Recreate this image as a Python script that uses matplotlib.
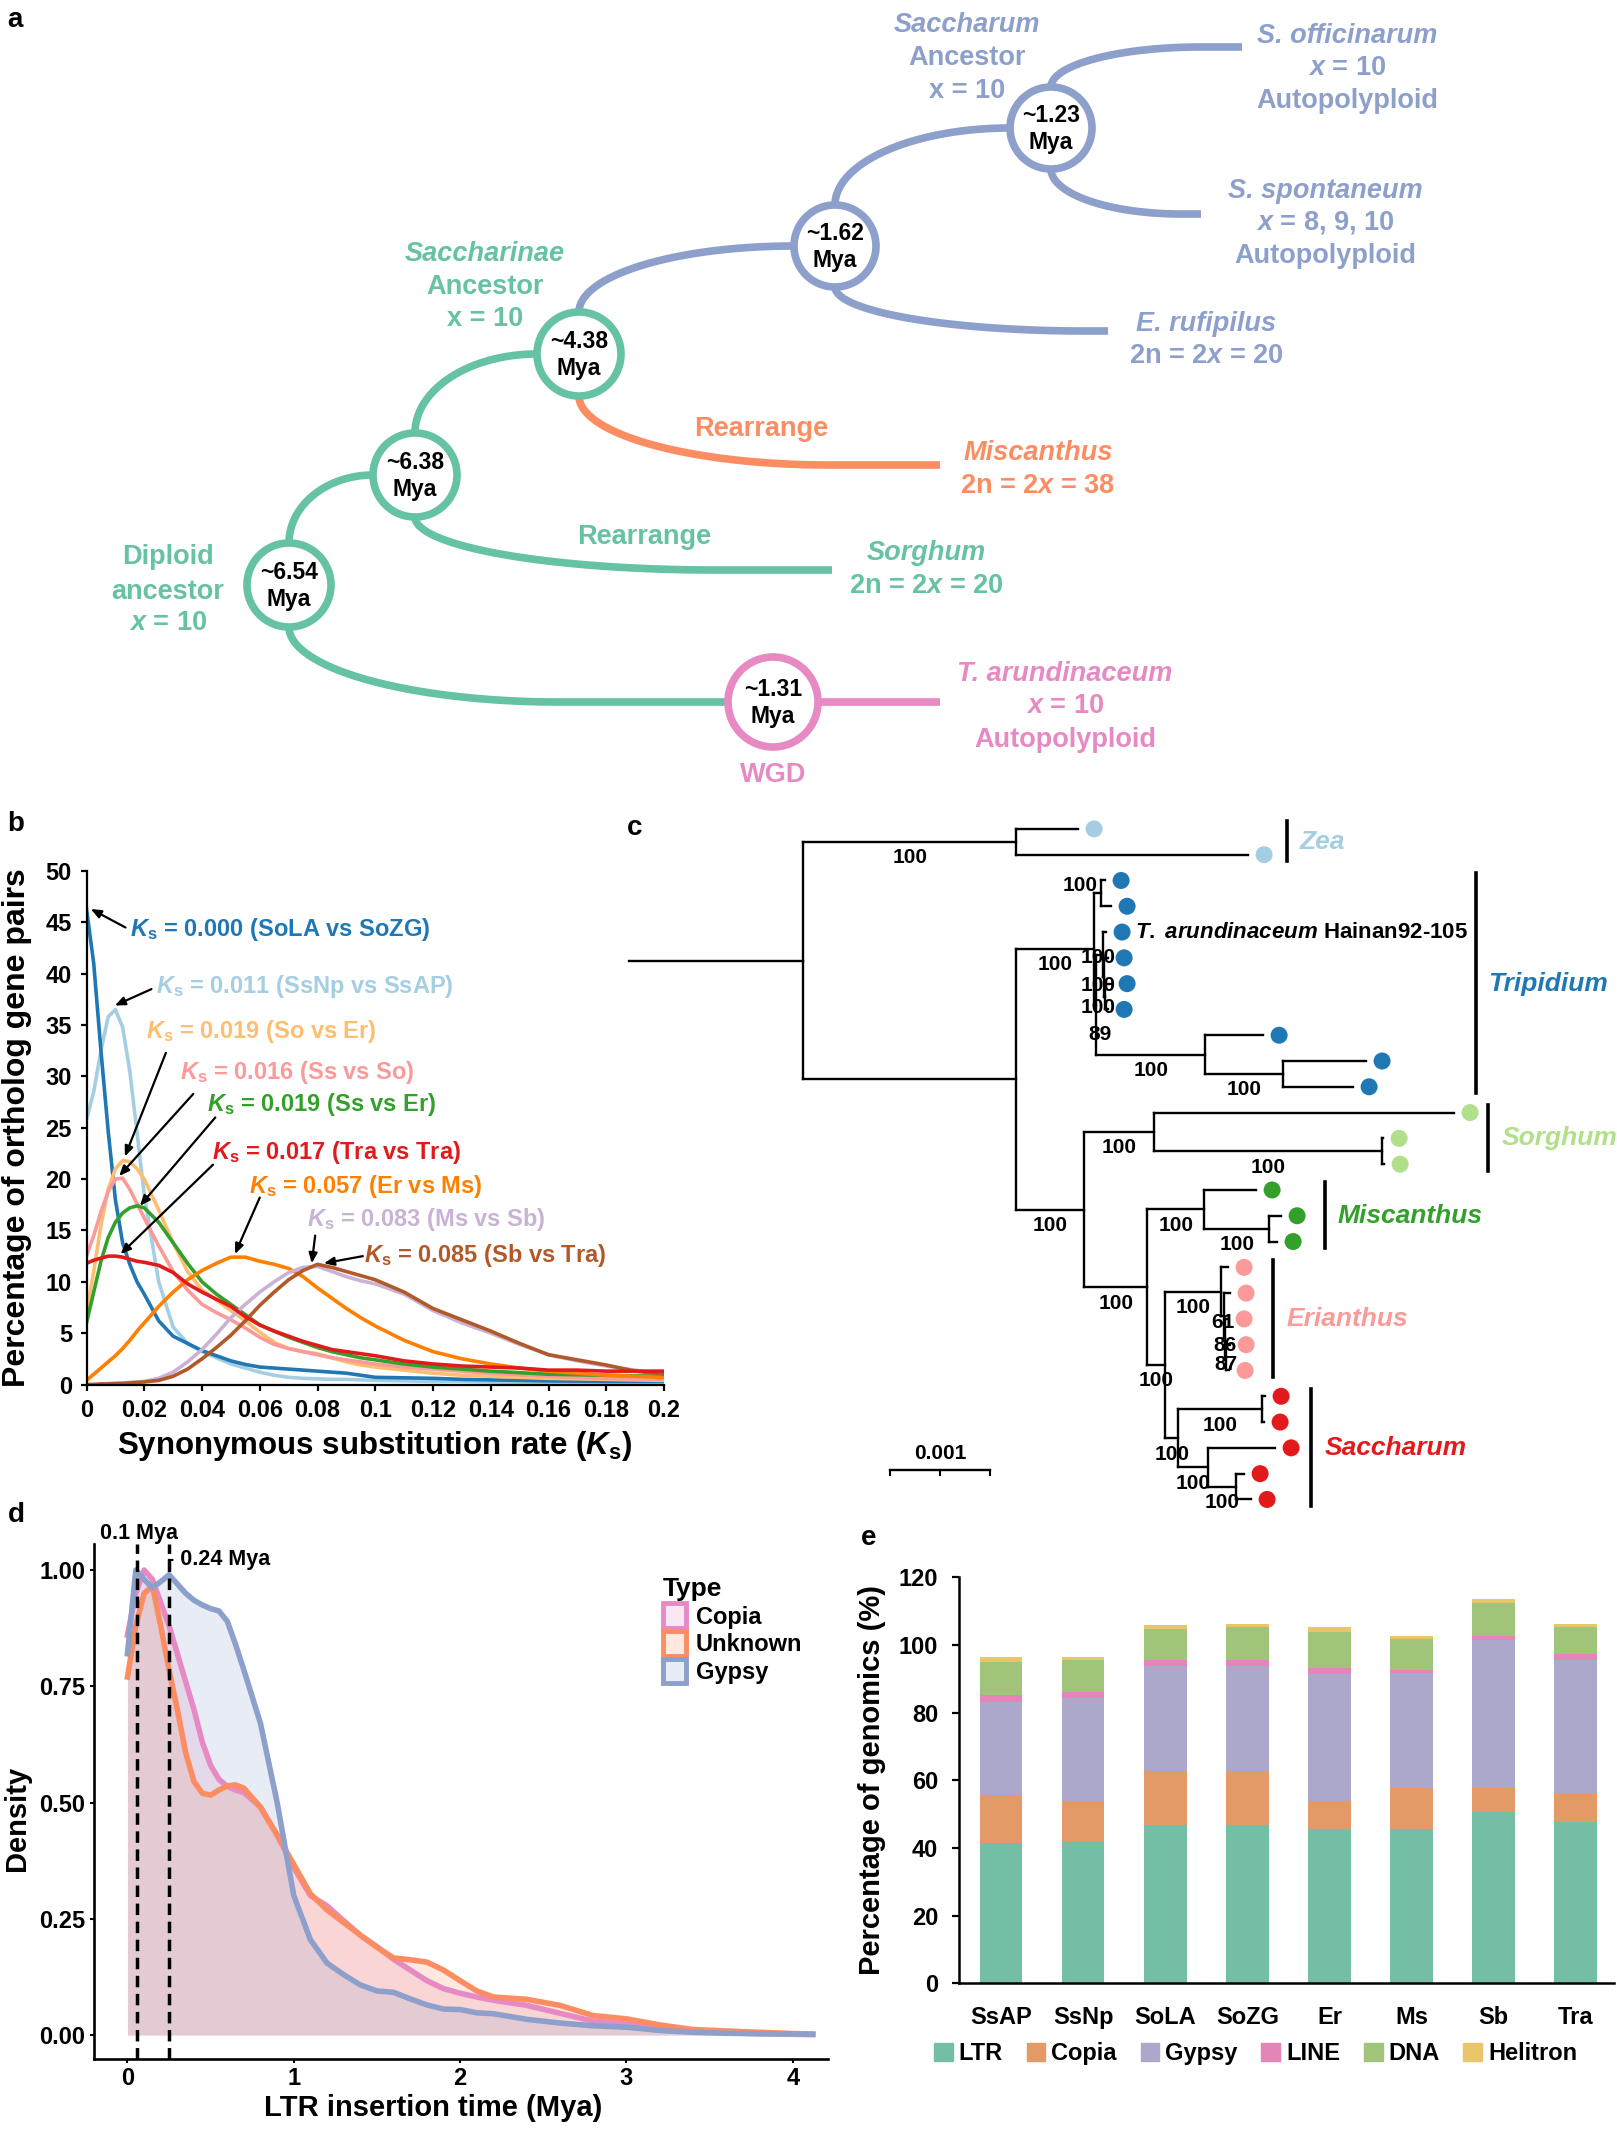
import numpy as np
import matplotlib
matplotlib.use("Agg")
import matplotlib.pyplot as plt
from matplotlib.patches import Circle, Patch

plt.rcParams['font.family'] = ['Liberation Sans', 'DejaVu Sans']
plt.rcParams['font.weight'] = 'bold'
plt.rcParams['mathtext.fontset'] = 'custom'
plt.rcParams['mathtext.rm'] = 'Liberation Sans:bold'
plt.rcParams['mathtext.it'] = 'Liberation Sans:italic:bold'
plt.rcParams['mathtext.bf'] = 'Liberation Sans:bold'

W, H = 1617, 2129
BLUE, GREEN, ORANGE, PINK = '#8DA0CB', '#66C2A5', '#FC8D62', '#E78AC3'

# %% panel a : divergence scheme (layout in figure pixels)
a_node_text = ['~1.23\nMya', '~1.62\nMya', '~4.38\nMya', '~6.38\nMya', '~6.54\nMya', '~1.31\nMya']
a_node_x = [1051, 835, 579, 415, 289, 773]
a_node_y = [128, 246, 354, 475, 585, 702]
a_node_r = [41, 41, 42, 42, 42, 45]
a_node_col = [BLUE, BLUE, GREEN, GREEN, GREEN, PINK]

# side: -1 leaves from top, 1 from bottom, 0 from the right; to = -1 means a leaf
a_br_from = [0, 0, 1, 1, 2, 2, 3, 3, 4, 4, 5]
a_br_side = [-1, 1, -1, 1, -1, 1, -1, 1, -1, 1, 0]
a_br_to = [-1, -1, 0, -1, 1, -1, 2, -1, 3, 5, -1]
a_br_end_x = [1242, 1201, 0, 1108, 0, 940, 0, 832, 0, 0, 940]
a_br_end_y = [47, 214, 0, 331, 0, 465, 0, 570, 0, 0, 702]
a_br_rx = [150, 130, 0, 250, 0, 250, 0, 300, 0, 270, 0]
a_br_col = [BLUE, BLUE, BLUE, BLUE, BLUE, ORANGE, GREEN, GREEN, GREEN, GREEN, PINK]

a_lab_text = ['Saccharum', 'Ancestor', 'x = 10',
              'S. officinarum', '$x$ = 10', 'Autopolyploid',
              'S. spontaneum', '$x$ = 8, 9, 10', 'Autopolyploid',
              'E. rufipilus', '2n = 2$x$ = 20',
              'Saccharinae', 'Ancestor', 'x = 10',
              'Rearrange', 'Miscanthus', '2n = 2$x$ = 38',
              'Rearrange', 'Sorghum', '2n = 2$x$ = 20',
              'Diploid', 'ancestor', '$x$ = 10',
              'T. arundinaceum', '$x$ = 10', 'Autopolyploid', 'WGD']
a_lab_x = [967, 967, 967, 1347, 1347, 1347, 1325, 1325, 1325, 1206, 1206,
           485, 485, 485, 761, 1038, 1038, 644, 926, 926, 168, 168, 168,
           1065, 1065, 1065, 773]
a_lab_y = [25, 58, 91, 36, 68, 101, 191, 223, 256, 324, 356,
           254, 287, 319, 429, 453, 486, 537, 553, 586, 557, 592, 623,
           674, 706, 740, 775]
a_lab_col = [BLUE] * 11 + [GREEN] * 3 + [ORANGE] * 3 + [GREEN] * 6 + [PINK] * 4
a_lab_ital = [1, 0, 0, 1, 0, 0, 1, 0, 0, 1, 0, 1, 0, 0, 0, 1, 0, 0, 1, 0, 0, 0, 0, 1, 0, 0, 0]

# %% panel b : Ks distributions
ks_x = [0, 0.0025, 0.005, 0.0075, 0.01, 0.0125, 0.015, 0.0175, 0.02, 0.025, 0.03, 0.035,
        0.04, 0.045, 0.05, 0.055, 0.06, 0.065, 0.07, 0.075, 0.08, 0.085, 0.09, 0.095,
        0.1, 0.11, 0.12, 0.13, 0.14, 0.15, 0.16, 0.17, 0.18, 0.19, 0.2]
ks_sola_sozg = [46.3, 41, 32.5, 24.7, 18, 13.8, 11.7, 10, 8.8, 6.2, 4.7, 4.0, 3.3, 2.8, 2.3,
                1.95, 1.7, 1.6, 1.5, 1.4, 1.3, 1.2, 1.1, 0.9, 0.7, 0.65, 0.6, 0.5, 0.45, 0.4,
                0.35, 0.33, 0.3, 0.3, 0.3]
ks_ssnp_ssap = [25.8, 28.5, 32.5, 35.8, 36.5, 34.8, 30.5, 24.5, 18.5, 10.0, 5.6, 4.0, 3.2,
                2.6, 2.0, 1.6, 1.2, 0.9, 0.7, 0.6, 0.55, 0.5, 0.5, 0.45, 0.4, 0.35, 0.3, 0.3,
                0.25, 0.2, 0.2, 0.2, 0.2, 0.15, 0.15]
ks_so_er = [7.0, 11, 15.5, 19, 21.0, 21.8, 21.7, 21.0, 20.0, 17.0, 13.8, 11.0, 9.2, 8.2, 7.2,
            6.2, 5.1, 4.1, 3.5, 3.2, 3.0, 2.6, 2.2, 1.9, 1.7, 1.4, 1.1, 0.9, 0.8, 0.7, 0.6,
            0.55, 0.5, 0.45, 0.4]
ks_ss_so = [12.5, 14.5, 16.8, 18.8, 20.0, 20.1, 19.0, 17.6, 16.2, 13.5, 11.0, 9.2, 7.8, 7.0,
            6.3, 5.5, 4.6, 3.9, 3.5, 3.2, 2.9, 2.6, 2.4, 2.2, 2.0, 1.7, 1.5, 1.3, 1.1, 0.95,
            0.8, 0.7, 0.6, 0.55, 0.5]
ks_ss_er = [6.0, 9, 12, 14.3, 15.8, 16.7, 17.2, 17.4, 17.2, 15.8, 13.8, 11.8, 10.0, 8.8, 7.8,
            6.8, 5.8, 5.2, 4.6, 4.1, 3.6, 3.2, 2.9, 2.6, 2.4, 2.0, 1.7, 1.5, 1.3, 1.15, 1.0,
            0.95, 0.9, 0.85, 0.8]
ks_tra_tra = [11.8, 12.1, 12.3, 12.5, 12.5, 12.4, 12.2, 12.0, 11.9, 11.6, 10.9, 9.8, 9.0,
              8.3, 7.6, 6.6, 5.8, 5.2, 4.7, 4.2, 3.8, 3.4, 3.2, 3.0, 2.8, 2.3, 2.0, 1.8, 1.7,
              1.6, 1.4, 1.4, 1.3, 1.3, 1.3]
ks_er_ms = [0.4, 1.0, 1.6, 2.2, 2.8, 3.5, 4.3, 5.2, 6.0, 7.6, 9.0, 10.2, 11.1, 11.8, 12.4,
            12.4, 12.0, 11.7, 11.3, 10.5, 9.4, 8.4, 7.4, 6.5, 5.7, 4.3, 3.2, 2.5, 2.0, 1.6,
            1.3, 1.1, 0.9, 0.8, 0.7]
ks_ms_sb = [0, 0, 0.05, 0.1, 0.1, 0.15, 0.2, 0.25, 0.3, 0.6, 1.2, 2.2, 3.4, 4.9, 6.5, 7.8,
            9.0, 10.0, 10.9, 11.4, 11.5, 11.0, 10.5, 10.1, 9.8, 8.8, 7.2, 6.0, 5.0, 3.9, 2.9,
            2.3, 1.8, 1.4, 1.0]
ks_sb_tra = [0, 0, 0.05, 0.05, 0.1, 0.1, 0.15, 0.2, 0.25, 0.4, 0.8, 1.5, 2.5, 3.6, 4.8, 6.2,
             7.7, 9.0, 10.2, 11.1, 11.7, 11.4, 11.0, 10.6, 10.2, 9.0, 7.4, 6.3, 5.2, 4.0, 2.9,
             2.4, 1.9, 1.3, 1.0]
ks_series = [ks_ssnp_ssap, ks_sola_sozg, ks_so_er, ks_ss_so, ks_ss_er, ks_er_ms, ks_ms_sb,
             ks_sb_tra, ks_tra_tra]
ks_colors = ['#a6cee3', '#1f78b4', '#fdbf6f', '#fb9a99', '#33a02c', '#ff7f00', '#cab2d6',
             '#b15928', '#e31a1c']
ks_xticks = [0, 0.02, 0.04, 0.06, 0.08, 0.1, 0.12, 0.14, 0.16, 0.18, 0.2]
ks_xticklabels = ['0', '0.02', '0.04', '0.06', '0.08', '0.1', '0.12', '0.14', '0.16', '0.18', '0.2']

ks_note_text = ['0.000 (SoLA vs SoZG)', '0.011 (SsNp vs SsAP)', '0.019 (So vs Er)',
                '0.016 (Ss vs So)', '0.019 (Ss vs Er)', '0.017 (Tra vs Tra)',
                '0.057 (Er vs Ms)', '0.083 (Ms vs Sb)', '0.085 (Sb vs Tra)']
ks_note_col = ['#1f78b4', '#a6cee3', '#fdbf6f', '#fb9a99', '#33a02c', '#e31a1c', '#ff7f00',
               '#cab2d6', '#b15928']
ks_note_xy = [(0.0149, 44.3), (0.0240, 38.8), (0.0205, 34.4), (0.0325, 30.4), (0.0416, 27.3),
              (0.0434, 22.6), (0.0562, 19.3), (0.0762, 16.1), (0.0962, 12.6)]
ks_arrow_tail = [(0.0135, 44.5), (0.0225, 38.5), (0.0275, 32.3), (0.0370, 28.3), (0.0446, 26.0),
                 (0.0438, 21.4), (0.0600, 18.2), (0.0792, 14.5), (0.0957, 12.5)]
ks_arrow_tip = [(0.0015, 46.3), (0.0098, 36.9), (0.0133, 22.2), (0.0113, 20.3), (0.0185, 17.4),
                (0.0118, 12.7), (0.0514, 12.7), (0.0780, 11.8), (0.0822, 11.8)]

# %% panel c : ML tree
c_tip_names = ['Z1', 'Z2', 'T1', 'T2', 'T3', 'T4', 'T5', 'T6', 'T7', 'T8', 'T9',
               'S1', 'S2', 'S3', 'M1', 'M2', 'M3', 'E1', 'E2', 'E3', 'E4', 'E5',
               'Sa1', 'Sa2', 'Sa3', 'Sa4', 'Sa5']
c_tip_x = [0.00275, 0.00445, 0.00302, 0.00308, 0.00303, 0.00305, 0.00308, 0.00305,
           0.00460, 0.00563, 0.00550, 0.00651, 0.00580, 0.00581, 0.00453, 0.00478, 0.00474,
           0.00425, 0.00427, 0.00425, 0.00427, 0.00426,
           0.00462, 0.00461, 0.00472, 0.00441, 0.00448]
c_tip_col = ['#a6cee3'] * 2 + ['#1f78b4'] * 9 + ['#b2df8a'] * 3 + ['#33a02c'] * 3 + \
            ['#fb9a99'] * 5 + ['#e31a1c'] * 5
c_int_names = ['root', 'Zea', 'A', 'Trip', 'N12', 'N39', 'N36', 'N46', 'N56', 'N79', 'N89',
               'B', 'Sor', 'S23', 'C', 'Mis', 'M23', 'D', 'Eri', 'E25', 'E35', 'E45',
               'Sac', 'Sa12', 'Sa35', 'Sa45']
c_int_kids = [['Zea', 'A'], ['Z1', 'Z2'], ['Trip', 'B'], ['N12', 'N39'], ['T1', 'T2'],
              ['N36', 'N79'], ['T3', 'N46'], ['T4', 'N56'], ['T5', 'T6'], ['T7', 'N89'],
              ['T8', 'T9'], ['Sor', 'C'], ['S1', 'S23'], ['S2', 'S3'], ['Mis', 'D'],
              ['M1', 'M23'], ['M2', 'M3'], ['Eri', 'Sac'], ['E1', 'E25'], ['E2', 'E35'],
              ['E3', 'E45'], ['E4', 'E5'], ['Sa12', 'Sa35'], ['Sa1', 'Sa2'], ['Sa3', 'Sa45'],
              ['Sa4', 'Sa5']]
c_int_x = [0.0, 0.00213, 0.00213, 0.00291, 0.00298, 0.00293, 0.00300, 0.00301, 0.00302,
           0.00402, 0.00480, 0.00281, 0.00351, 0.00579, 0.00344, 0.00401, 0.00466, 0.00362,
           0.00418, 0.00421, 0.00422, 0.00423, 0.00375, 0.00459, 0.00405, 0.00433]
c_int_boot = [None, 100, None, 100, 100, 89, 100, 100, 100, 100, 100, 100, 100, 100, 100,
              100, 100, 100, 100, 61, 86, 87, 100, 100, 100, 100]
# label nudges (x in branch units, y in tip rows) for the crowded nodes
c_boot_dx = [0, 0, 0, 0, -0.000177, 0.00005, -0.00002, -0.00006, -0.00007, 0, 0,
             0, 0, 0, 0, 0, 0, 0, 0, 0, 0, 0, 0, 0, 0, 0]
c_boot_dy = [0.62, 0.62, 0.62, 0.62, -0.3, 1.17, 0.1, 0.31, 0.44, 0.62, 0.62,
             0.62, 0.62, 0.62, 0.62, 0.62, 0.62, 0.62, 0.62, 0.27, 0.27, 0.27,
             0.62, 0.62, 0.62, 0.62]
c_root_stem = -0.00174
c_clade_names = ['Zea', 'Tripidium', 'Sorghum', 'Miscanthus', 'Erianthus', 'Saccharum']
c_clade_first = [0, 2, 11, 14, 17, 22]
c_clade_last = [1, 10, 13, 16, 21, 26]
c_clade_bar_x = [0.004835, 0.006724, 0.00685, 0.005216, 0.0047, 0.00508]
c_clade_col = ['#a6cee3', '#1f78b4', '#b2df8a', '#33a02c', '#fb9a99', '#e31a1c']

# %% panel d : LTR insertion time densities
ltr_x = [0, 0.05, 0.1, 0.15, 0.2, 0.25, 0.3, 0.35, 0.4, 0.45, 0.5, 0.55, 0.6, 0.65, 0.7,
         0.8, 0.9, 1.0, 1.1, 1.2, 1.3, 1.4, 1.5, 1.6, 1.7, 1.8, 1.9, 2.0, 2.1, 2.2, 2.4,
         2.6, 2.8, 3.0, 3.2, 3.4, 3.6, 3.8, 4.12]
ltr_copia = [0.86, 0.95, 1.0, 0.98, 0.93, 0.88, 0.82, 0.76, 0.70, 0.63, 0.58, 0.55, 0.535,
             0.527, 0.522, 0.49, 0.43, 0.36, 0.30, 0.278, 0.246, 0.215, 0.19, 0.163, 0.14,
             0.117, 0.10, 0.09, 0.082, 0.075, 0.064, 0.047, 0.03, 0.024, 0.013, 0.008,
             0.005, 0.003, 0.001]
ltr_unknown = [0.77, 0.88, 0.95, 0.965, 0.88, 0.785, 0.70, 0.607, 0.545, 0.52, 0.516, 0.527,
               0.536, 0.538, 0.531, 0.49, 0.43, 0.367, 0.304, 0.269, 0.242, 0.215, 0.189,
               0.166, 0.162, 0.157, 0.14, 0.117, 0.095, 0.082, 0.077, 0.064, 0.042, 0.035,
               0.022, 0.012, 0.009, 0.006, 0.002]
ltr_gypsy = [0.82, 1.0, 0.98, 0.962, 0.975, 0.99, 0.97, 0.95, 0.935, 0.925, 0.917, 0.912,
             0.89, 0.84, 0.785, 0.67, 0.50, 0.30, 0.205, 0.155, 0.13, 0.108, 0.095, 0.092,
             0.078, 0.065, 0.056, 0.055, 0.048, 0.046, 0.034, 0.026, 0.02, 0.017, 0.01,
             0.006, 0.004, 0.003, 0.002]
ltr_types = ['Copia', 'Unknown', 'Gypsy']
ltr_colors = [PINK, ORANGE, BLUE]
ltr_peaks = [0.06, 0.25]

# %% panel e : repeat composition
te_genomes = ['SsAP', 'SsNp', 'SoLA', 'SoZG', 'Er', 'Ms', 'Sb', 'Tra']
te_ltr = [41.4, 41.7, 46.8, 46.8, 45.5, 45.5, 50.6, 47.6]
te_copia = [14.3, 12.1, 16.0, 16.0, 8.3, 12.1, 7.0, 8.7]
te_gypsy = [27.5, 30.4, 30.9, 30.9, 37.7, 34.1, 43.8, 39.4]
te_line = [2.0, 1.9, 1.9, 1.9, 1.6, 0.8, 1.2, 1.7]
te_dna = [9.8, 9.5, 9.2, 9.6, 10.9, 9.4, 9.7, 7.8]
te_helitron = [1.6, 1.0, 1.0, 0.9, 1.3, 0.9, 1.4, 0.9]
te_classes = ['LTR', 'Copia', 'Gypsy', 'LINE', 'DNA', 'Helitron']
te_colors = ['#75bea6', '#e39a67', '#aca8cc', '#e485b8', '#a0c47a', '#e9c66a']

# %% figure
fig = plt.figure(figsize=(W / 100, H / 100), dpi=100)
ov = fig.add_axes([0, 0, 1, 1])
ov.set_xlim(0, W)
ov.set_ylim(H, 0)
ov.axis('off')


def px_axes(left, top, right, bottom):
    ax = fig.add_axes([left / W, (H - bottom) / H, (right - left) / W, (bottom - top) / H])
    ax.set_facecolor('none')
    return ax


def elbow(x0, y0, x1, y1, rx):
    t = np.linspace(0, np.pi / 2, 80)
    xs = x0 + rx * (1 - np.cos(t))
    ys = y0 + (y1 - y0) * np.sin(t)
    return np.append(xs, x1), np.append(ys, y1)


# ---- a
for i in range(len(a_br_from)):
    n = a_br_from[i]
    x0, y0, r = a_node_x[n], a_node_y[n], a_node_r[n]
    if a_br_to[i] >= 0:
        m = a_br_to[i]
        x1, y1 = a_node_x[m] - a_node_r[m], a_node_y[m]
    else:
        x1, y1 = a_br_end_x[i], a_br_end_y[i]
    if a_br_side[i] == 0:
        ov.plot([x0 + r, x1], [y0, y1], color=a_br_col[i], lw=5.5, solid_capstyle='butt', zorder=2)
        continue
    sy = y0 + a_br_side[i] * r
    rx = a_br_rx[i] if a_br_rx[i] > 0 else x1 - x0
    xs, ys = elbow(x0, sy, x1, y1, rx)
    ov.plot(xs, ys, color=a_br_col[i], lw=5.5, solid_capstyle='butt', zorder=2)

for i in range(len(a_node_x)):
    ov.add_patch(Circle((a_node_x[i], a_node_y[i]), a_node_r[i], fc='white',
                        ec=a_node_col[i], lw=5.5, zorder=3))
    ov.text(a_node_x[i], a_node_y[i] + 1, a_node_text[i], ha='center', va='center',
            fontsize=16.5, color='black', linespacing=1.25, zorder=4)

for i in range(len(a_lab_text)):
    ov.text(a_lab_x[i], a_lab_y[i], a_lab_text[i], ha='center', va='center', fontsize=19.5,
            color=a_lab_col[i], fontstyle='italic' if a_lab_ital[i] else 'normal')

# ---- b
ax_b = px_axes(86.5, 871, 664, 1384.5)
for vals, col in zip(ks_series, ks_colors):
    ax_b.plot(ks_x, vals, color=col, lw=2.6, solid_joinstyle='round')
ax_b.set_xlim(0, 0.2)
ax_b.set_ylim(0, 50)
ax_b.set_xticks(ks_xticks)
ax_b.set_xticklabels(ks_xticklabels)
ax_b.set_yticks(range(0, 51, 5))
for s in ['top', 'right']:
    ax_b.spines[s].set_visible(False)
for s in ['left', 'bottom']:
    ax_b.spines[s].set_linewidth(1.6)
ax_b.tick_params(labelsize=17, width=1.6, length=4.5, pad=6)
for txt, col, xy, tail, tip in zip(ks_note_text, ks_note_col, ks_note_xy, ks_arrow_tail, ks_arrow_tip):
    ax_b.text(xy[0], xy[1], r'$K_\mathrm{s}$ = ' + txt, color=col, fontsize=17,
              ha='left', va='center')
    ax_b.annotate('', xy=tip, xytext=tail,
                  arrowprops=dict(arrowstyle='-|>,head_length=0.6,head_width=0.25',
                                  color='black', lw=1.6, shrinkA=0, shrinkB=0))
ov.text(17, 1128, 'Percentage of ortholog gene pairs', rotation=90, ha='center',
        va='center', fontsize=23)
ov.text(375, 1446, r'Synonymous substitution rate ($K_\mathrm{s}$)', ha='center',
        va='center', fontsize=22.5)

# ---- c
ax_c = px_axes(625, 808, 1617, 1520)
ax_c.set_xlim((625 - 803.2) / 1e5, (1617 - 803.2) / 1e5)
ax_c.set_ylim((1520 - 828.9) / 25.79, (808 - 828.9) / 25.79)
ax_c.axis('off')
xpos = dict(zip(c_tip_names, c_tip_x))
xpos.update(zip(c_int_names, c_int_x))
kids = dict(zip(c_int_names, c_int_kids))
parent = {k: p for p, ks in kids.items() for k in ks}
ypos = {n: i for i, n in enumerate(c_tip_names)}


def node_y(n):
    if n not in ypos:
        ys = [node_y(k) for k in kids[n]]
        ypos[n] = (ys[0] + ys[-1]) / 2
    return ypos[n]


node_y('root')
for n in c_int_names:
    ks = kids[n]
    ax_c.plot([xpos[n], xpos[n]], [ypos[ks[0]], ypos[ks[-1]]], color='black', lw=1.7)
    for k in ks:
        ax_c.plot([xpos[n], xpos[k]], [ypos[k], ypos[k]], color='black', lw=1.7)
ax_c.plot([c_root_stem, 0], [ypos['root'], ypos['root']], color='black', lw=1.7)
for n, b, dx, dy in zip(c_int_names, c_int_boot, c_boot_dx, c_boot_dy):
    if b is None:
        continue
    mx = (xpos[parent[n]] + xpos[n]) / 2
    ax_c.text(mx + dx, ypos[n] + dy, str(b), ha='center', va='center', fontsize=15)
ax_c.scatter(np.array(c_tip_x) + 0.000159, range(len(c_tip_x)), s=150, c=c_tip_col,
             zorder=3, linewidths=0)
ax_c.text(c_tip_x[4] + 0.000159 + 0.000127, 4, r'$T.$ $arundinaceum$ Hainan92-105',
          ha='left', va='center', fontsize=16)
for name, f, l, bx, col in zip(c_clade_names, c_clade_first, c_clade_last, c_clade_bar_x, c_clade_col):
    ax_c.plot([bx, bx], [f - 0.3, l + 0.25], color='black', lw=2.6)
    ax_c.text(bx + 0.00013, (f + l) / 2, name, color=col, fontsize=19, fontstyle='italic',
              ha='left', va='center', clip_on=False)
ax_c.plot([0.000871, 0.001871], [24.86, 24.86], color='black', lw=1.7)
for tx in [0.000871, 0.001371, 0.001871]:
    ax_c.plot([tx, tx], [24.86, 25.05], color='black', lw=1.5)
ax_c.text(0.001371, 24.2, '0.001', ha='center', va='center', fontsize=15)

# ---- d
ax_d = px_axes(93.7, 1544, 828, 2058.6)
for vals, col in zip([ltr_copia, ltr_unknown, ltr_gypsy], ltr_colors):
    ax_d.fill_between(ltr_x, 0, vals, color=col, alpha=0.2, lw=0)
for vals, col in zip([ltr_copia, ltr_unknown, ltr_gypsy], ltr_colors):
    ax_d.plot(ltr_x, vals, color=col, lw=4, solid_joinstyle='round')
for px in ltr_peaks:
    ax_d.axvline(px, color='black', lw=2.5, ls=(0, (3.3, 1.9)))
ax_d.text(0.07, 1.078, '0.1 Mya', ha='center', va='center', fontsize=15.5, clip_on=False)
ax_d.text(0.235, 1.022, '- 0.24 Mya', ha='left', va='center', fontsize=15.5)
ax_d.set_xlim(-0.203, 4.212)
ax_d.set_ylim(-0.0505, 1.056)
ax_d.set_xticks([0, 1, 2, 3, 4])
ax_d.set_yticks([0, 0.25, 0.5, 0.75, 1.0])
ax_d.set_yticklabels(['0.00', '0.25', '0.50', '0.75', '1.00'])
for s in ['top', 'right']:
    ax_d.spines[s].set_visible(False)
for s in ['left', 'bottom']:
    ax_d.spines[s].set_linewidth(1.9)
ax_d.tick_params(labelsize=17, width=1.5, length=3, pad=3)
handles = [Patch(facecolor=(*matplotlib.colors.to_rgb(c), 0.2), edgecolor=c, lw=3.5)
           for c in ltr_colors]
ax_d.legend(handles, ltr_types, title='Type', loc='upper left', bbox_to_anchor=(0.762, 0.955),
            frameon=False, fontsize=17, title_fontproperties={'weight': 'bold', 'size': 19},
            handlelength=1.0, handleheight=1.2, handletextpad=0.4, labelspacing=0.12,
            alignment='left', borderaxespad=0)
ov.text(17, 1818, 'Density', rotation=90, ha='center', va='center', fontsize=21)
ov.text(433, 2108, 'LTR insertion time (Mya)', ha='center', va='center', fontsize=21)

# ---- e
ax_e = px_axes(958.9, 1577.4, 1614, 1983.3)
xs = np.arange(1, len(te_genomes) + 1)
bottom = np.zeros(len(te_genomes))
for vals, col in zip([te_ltr, te_copia, te_gypsy, te_line, te_dna, te_helitron], te_colors):
    ax_e.bar(xs, vals, 0.52, bottom=bottom, color=col, lw=0)
    bottom += np.array(vals)
ax_e.set_xlim(0.487, 8.466)
ax_e.set_ylim(0, 120)
ax_e.set_xticks(xs)
ax_e.set_xticklabels(te_genomes)
ax_e.set_yticks(range(0, 121, 20))
for s in ['top', 'right']:
    ax_e.spines[s].set_visible(False)
for s in ['left', 'bottom']:
    ax_e.spines[s].set_linewidth(1.8)
ax_e.tick_params(axis='y', labelsize=17, width=1.6, length=5, pad=10)
ax_e.tick_params(axis='x', labelsize=17, length=0, pad=16)
ax_e.legend([Patch(color=c) for c in te_colors], te_classes, ncol=6, loc='center',
            bbox_to_anchor=(0.453, -0.174), frameon=False, fontsize=17, handlelength=0.8,
            handleheight=0.8, handletextpad=0.25, columnspacing=1.0, borderaxespad=0)
ov.text(872, 1780, 'Percentage of genomics (%)', rotation=90, ha='center', va='center',
        fontsize=21)

# ---- panel letters
for lab, x, y in [('a', 15, 20), ('b', 16, 824), ('c', 635, 828), ('d', 16, 1515), ('e', 869, 1538)]:
    ov.text(x, y, lab, ha='center', va='center', fontsize=20)

fig.savefig('out.png', dpi=100)
